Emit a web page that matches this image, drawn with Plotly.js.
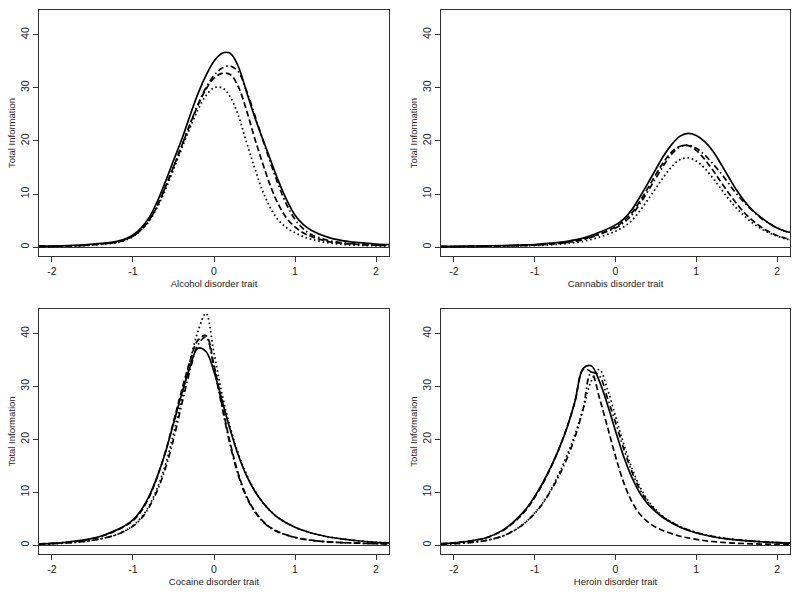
<!DOCTYPE html>
<html>
<head>
<meta charset="utf-8">
<script src="https://cdn.plot.ly/plotly-3.0.1.min.js"></script>
<style>html,body{margin:0;padding:0;background:#fff;}#chart{width:800px;height:594px;}</style>
</head>
<body>
<div id="chart"></div>
<script>
// ---------- Data ----------
const panelTitles = ["Alcohol disorder trait", "Cannabis disorder trait", "Cocaine disorder trait", "Heroin disorder trait"];
const yTitle = "Total Information";
const xTickVals = [-2, -1, 0, 1, 2];
const xTickText = ["-2", "-1", "0", "1", "2"];
const yTickVals = [0, 10, 20, 30, 40];
const yTickText = ["0", "10", "20", "30", "40"];

// Alcohol
const alcX        = [-2.16,-2,-1.8,-1.6,-1.4,-1.2,-1.1,-1,-0.9,-0.8,-0.7,-0.6,-0.5,-0.4,-0.3,-0.2,-0.1,0,0.1,0.2,0.3,0.4,0.5,0.6,0.7,0.8,0.9,1,1.1,1.2,1.4,1.6,1.8,2,2.16];
const alcSolid    = [0.2,0.2,0.3,0.45,0.7,1.1,1.55,2.3,3.6,5.6,8.6,12.3,16.3,20.2,24.6,28.8,32.3,35.0,36.5,36.5,34.0,29.3,24.6,20.4,16.3,12.3,8.8,6.0,4.3,3.2,1.9,1.2,0.85,0.6,0.5];
const alcDashDot  = [0.15,0.15,0.22,0.35,0.6,0.95,1.4,2.1,3.3,5.1,7.8,11.3,15.1,19.0,23.0,26.8,30.0,32.3,33.7,34.1,33.0,29.5,25.0,20.3,15.8,11.5,7.9,5.2,3.5,2.4,1.3,0.8,0.55,0.4,0.35];
const alcDash     = [0.15,0.15,0.22,0.35,0.6,0.95,1.4,2.1,3.3,5.1,7.8,11.3,15.1,19.0,23.0,26.6,29.7,31.8,32.7,32.5,30.2,25.8,20.6,15.8,11.4,7.9,5.4,3.8,2.7,2.0,1.1,0.7,0.5,0.38,0.32];
const alcDot      = [0.1,0.12,0.18,0.3,0.5,0.85,1.3,2.0,3.2,4.9,7.5,10.8,14.6,18.5,22.3,25.8,28.5,30.0,30.0,28.3,24.8,19.8,15.0,10.6,7.3,5.0,3.6,2.7,2.0,1.5,0.85,0.5,0.35,0.25,0.2];

// Cannabis
const canX        = [-2.16,-2,-1.8,-1.6,-1.4,-1.2,-1,-0.8,-0.6,-0.4,-0.2,0,0.1,0.2,0.3,0.4,0.5,0.6,0.7,0.8,0.9,1,1.1,1.2,1.3,1.4,1.5,1.6,1.7,1.8,1.9,2,2.1,2.16];
const canSolid    = [0.15,0.15,0.2,0.25,0.3,0.4,0.5,0.75,1.1,1.7,2.8,4.2,5.3,7.0,9.4,12.0,14.7,17.3,19.4,20.9,21.4,21.0,19.9,18.2,15.8,13.2,10.7,8.6,6.9,5.6,4.5,3.6,3.0,2.8];
const canDashDot  = [0.1,0.1,0.15,0.2,0.25,0.3,0.4,0.6,0.9,1.4,2.4,3.6,4.6,6.0,8.1,10.5,13.0,15.5,17.6,18.9,19.2,18.6,17.4,15.8,14.0,12.0,10.0,8.3,6.8,5.5,4.5,3.6,3.0,2.7];
const canDash     = [0.1,0.1,0.15,0.2,0.25,0.3,0.4,0.6,0.9,1.5,2.5,3.8,4.9,6.4,8.6,11.1,13.7,16.1,18.0,19.0,19.1,18.2,16.6,14.6,12.4,10.2,8.2,6.4,5.0,3.8,2.9,2.2,1.7,1.4];
const canDot      = [0.08,0.08,0.1,0.15,0.2,0.25,0.3,0.45,0.7,1.1,1.9,3.0,3.8,5.0,6.8,8.9,11.1,13.3,15.2,16.5,16.8,16.2,14.9,13.1,11.1,9.1,7.3,5.8,4.5,3.5,2.7,2.1,1.6,1.4];

// Cocaine
const cocX        = [-2.16,-2,-1.8,-1.6,-1.4,-1.2,-1.1,-1,-0.9,-0.8,-0.7,-0.6,-0.5,-0.4,-0.3,-0.2,-0.1,0,0.1,0.2,0.3,0.4,0.5,0.6,0.7,0.8,1,1.2,1.4,1.6,1.8,2,2.16];
const cocSolid    = [0.25,0.35,0.6,1.0,1.7,2.9,3.7,4.8,6.6,9.3,13.0,17.5,23.0,28.5,33.5,37.2,36.6,32.8,27.3,21.8,17.0,13.2,10.3,8.1,6.4,5.1,3.4,2.3,1.6,1.15,0.8,0.55,0.45];
const cocDashDot  = [0.2,0.28,0.45,0.7,1.2,2.0,2.7,3.6,5.0,7.2,10.3,14.5,20.0,26.5,32.8,37.8,39.3,33.5,26.0,18.9,13.2,9.1,6.4,4.5,3.2,2.4,1.45,0.92,0.63,0.47,0.37,0.3,0.25];
const cocDash     = [0.25,0.35,0.6,0.95,1.6,2.8,3.6,4.6,6.4,9.1,12.9,17.6,23.3,29.2,34.6,38.7,39.6,34.0,26.5,19.3,13.5,9.3,6.5,4.6,3.3,2.5,1.5,0.95,0.65,0.48,0.38,0.3,0.25];
const cocDot      = [0.2,0.28,0.45,0.7,1.2,2.0,2.7,3.7,5.2,7.5,10.8,15.2,21.0,27.8,34.5,40.3,43.8,36.3,28.5,22.3,17.3,13.4,10.4,8.1,6.4,5.1,3.4,2.3,1.6,1.15,0.8,0.55,0.45];

// Heroin
const herX        = [-2.16,-2,-1.8,-1.6,-1.4,-1.3,-1.2,-1.1,-1,-0.9,-0.8,-0.7,-0.6,-0.5,-0.4,-0.3,-0.2,-0.1,0,0.1,0.2,0.3,0.4,0.5,0.6,0.8,1,1.2,1.4,1.6,1.8,2,2.16];
const herSolid    = [0.3,0.45,0.8,1.4,2.8,3.9,5.3,7.0,9.2,11.8,14.8,18.2,22.2,27.3,33.4,33.9,31.0,26.6,21.6,16.8,12.9,9.9,7.8,6.3,5.1,3.4,2.3,1.6,1.15,0.85,0.65,0.5,0.4];
const herDashDot  = [0.2,0.3,0.5,0.9,1.7,2.4,3.3,4.5,6.0,7.9,10.3,13.1,16.4,20.5,25.8,32.6,32.0,27.8,23.2,18.3,14.0,10.6,8.2,6.5,5.2,3.5,2.4,1.7,1.2,0.88,0.66,0.5,0.4];
const herDash     = [0.3,0.45,0.8,1.4,2.7,3.8,5.1,6.8,9.0,11.6,14.7,18.2,22.3,27.2,33.2,32.7,27.9,22.4,16.8,11.9,8.3,5.9,4.4,3.4,2.7,1.7,1.1,0.7,0.45,0.32,0.22,0.16,0.12];
const herDot      = [0.2,0.3,0.5,0.9,1.7,2.4,3.3,4.5,6.1,8.0,10.5,13.5,17.0,21.0,25.8,31.0,33.2,29.5,24.4,19.2,14.7,11.1,8.5,6.7,5.3,3.5,2.4,1.7,1.2,0.88,0.66,0.5,0.4];

// ---------- Build figure ----------
const panels = [
  {x: alcX, series: [alcSolid, alcDashDot, alcDash, alcDot]},
  {x: canX, series: [canSolid, canDashDot, canDash, canDot]},
  {x: cocX, series: [cocSolid, cocDashDot, cocDash, cocDot]},
  {x: herX, series: [herSolid, herDashDot, herDash, herDot]}
];
const dashes = ["solid", "6px,3px,1.5px,3px", "6px,3px", "1.6px,2.8px"];

const W = 800, H = 594;
const boxes = [
  {x0: 39, x1: 389, y0: 10, y1: 256},
  {x0: 441, x1: 790, y0: 10, y1: 256},
  {x0: 39, x1: 389, y0: 309, y1: 554},
  {x0: 441, x1: 790, y0: 309, y1: 554}
];

const font = {family: "Liberation Sans, Arial, sans-serif", size: 10, color: "#222"};
const traces = [];
const layout = {
  width: W, height: H,
  margin: {l: 0, r: 0, t: 0, b: 0},
  paper_bgcolor: "#fff", plot_bgcolor: "#fff",
  showlegend: false,
  font: font
};

panels.forEach((p, i) => {
  const k = i === 0 ? "" : String(i + 1);
  p.series.forEach((ys, j) => {
    traces.push({
      x: p.x, y: ys, type: "scatter", mode: "lines",
      xaxis: "x" + k, yaxis: "y" + k,
      line: {color: "#000", width: 1.7, dash: dashes[j], shape: "spline", smoothing: 1},
      hoverinfo: "skip"
    });
  });
  const b = boxes[i];
  layout["xaxis" + k] = {
    domain: [b.x0 / W, b.x1 / W], anchor: "y" + k,
    range: [-2.16, 2.16], tickvals: xTickVals, ticktext: xTickText,
    showline: true, mirror: true, linecolor: "#333", linewidth: 1,
    ticks: "outside", ticklen: 5, tickcolor: "#333", tickwidth: 1,
    showgrid: false, zeroline: false, tickfont: {size: 10.5, color: "#222"},
    title: {text: panelTitles[i], font: {size: 9.5, color: "#222"}, standoff: 4}
  };
  layout["yaxis" + k] = {
    domain: [1 - b.y1 / H, 1 - b.y0 / H], anchor: "x" + k,
    range: [-1.66, 44.63], tickvals: yTickVals, ticktext: yTickText,
    showline: true, mirror: true, linecolor: "#333", linewidth: 1,
    ticks: "outside", ticklen: 5, tickcolor: "#333", tickwidth: 1,
    tickangle: -90, showgrid: false,
    zeroline: true, zerolinecolor: "#333", zerolinewidth: 1,
    tickfont: {size: 10.5, color: "#222"},
    title: {text: yTitle, font: {size: 9.5, color: "#222"}, standoff: 1}
  };
});

Plotly.newPlot("chart", traces, layout, {staticPlot: true, displayModeBar: false});
</script>
</body>
</html>
